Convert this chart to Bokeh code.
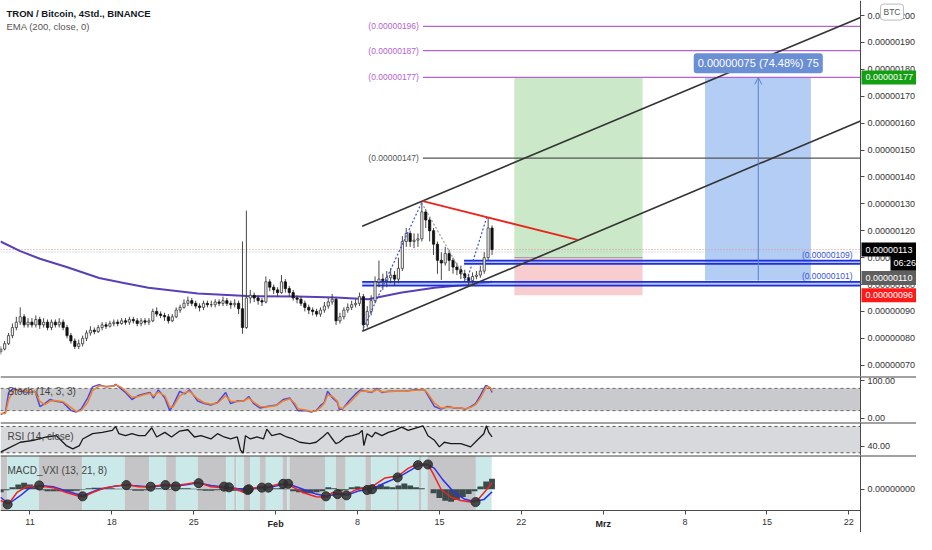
import numpy as np
from bokeh.plotting import figure
from bokeh.layouts import column
from bokeh.models import Range1d, FixedTicker, Label, Span, BoxAnnotation, Arrow, OpenHead
from bokeh.embed import file_html
from bokeh.resources import INLINE

FONT = "Liberation Sans"

# ---------------- data ----------------
# time in days since 1 Jan 2021 (31 = 1 Feb, 59 = 1 Mar); prices in satoshi (1e-8 BTC)
candle_start = 7.5
candle_hours = 8
first_open = 75.0
closes = [76, 78, 81, 84, 86, 88, 85, 86, 85, 87,
          85, 86, 84, 86, 85, 86, 84, 81, 79, 77,
          78, 80, 82, 83, 82.5, 84, 85, 84.5, 85.5, 86,
          85.5, 86.5, 86, 87, 86.5, 85.5, 86.5, 86, 86.5, 90,
          89, 88.5, 88, 86.5, 88, 90.5, 91.5, 93, 94, 93,
          92, 91.5, 93, 92.5, 92.5, 93.5, 93, 94, 93, 92.5,
          93, 91, 84, 95, 96, 95, 94, 93.5, 101, 99,
          98, 97, 101, 98.5, 97, 95, 94.5, 93, 91.5, 90.5,
          90, 89, 90.5, 92, 93.5, 94.5, 86.5, 88, 90.5, 91.5,
          92.5, 93, 95.5, 85, 90, 94, 101, 102, 101.5, 102.5,
          103.5, 102, 106, 116, 119, 116, 116.5, 117, 127, 124,
          120, 115, 109, 108, 111.5, 109, 106.5, 105.5, 104, 102.5,
          101.5, 103, 103.5, 105, 110, 121, 113]
highs = [77, 79, 82, 85.5, 88, 91.5, 89, 87.5, 87.5, 88.5,
         88, 87.5, 87, 87, 87, 87.5, 87, 85, 82, 80,
         79.5, 81, 83, 84.5, 84, 85, 86, 86, 86.5, 87,
         87, 87.5, 87.5, 88, 88, 87.5, 87.5, 87.5, 87.5, 91,
         91.5, 90, 89.5, 89, 89, 91.5, 92.5, 94.5, 95.5, 95,
         94, 93, 94, 94, 94, 94.5, 94.5, 95.5, 95, 94,
         94.5, 94, 116, 127.5, 98, 97, 96, 95, 103, 102,
         100, 99, 103.5, 102, 99.5, 98, 96, 95.5, 94, 92.5,
         91.5, 91, 91.5, 93.5, 95, 96.5, 95, 89.5, 91.5, 93,
         94, 94.5, 97, 96.5, 92, 96, 103, 108.9, 104, 105,
         106, 105, 110, 118, 121, 120, 119, 119, 130.7, 128,
         125, 121, 116, 112, 114, 113, 110, 108, 107, 105.5,
         104, 104.5, 105, 107, 112, 125, 122]
lows = [74, 75.5, 77.5, 80, 83, 85, 84, 84, 84, 84,
        83.5, 84, 83, 83, 84, 84, 83, 80, 78, 76,
        76, 77, 79, 81, 81.5, 82, 83, 83.5, 84, 84.5,
        84.5, 85, 85, 85, 85.5, 84.5, 84.5, 85, 85, 86,
        88, 87.5, 86.5, 85.5, 86, 87.5, 89.5, 91, 92, 92,
        91, 90, 90.5, 91.5, 91.5, 91.5, 92, 92, 92, 91,
        91.5, 89, 81.7, 83.5, 93, 93.5, 92.5, 92, 93, 97.5,
        96.5, 95.5, 96.5, 97, 95.5, 94, 93, 92, 90, 89,
        88.5, 88, 88, 89.5, 91, 92.5, 85, 85.5, 87, 89.5,
        90.5, 91.5, 92, 82.7, 84, 88.5, 93, 99, 98, 99,
        100.5, 99.5, 100.5, 105, 114, 114, 113.5, 114, 116, 121,
        116, 111, 104, 101.7, 107, 105, 104, 103.5, 102, 101,
        99.5, 100.5, 102, 102.5, 104, 109, 111]

ema_days = [7.48, 9.17, 10.85, 13.13, 15.91, 18.02, 20.13, 24.34, 28.56, 32.78, 36.15, 38.93, 41.80, 44.58, 47.36, 49.50]
ema_vals = [116.0, 112.4, 109.6, 106.5, 102.4, 100.6, 98.8, 96.7, 95.7, 95.5, 95.2, 94.5, 97.0, 98.8, 99.9, 101.0]

price_ticks = [70, 80, 90, 100, 110, 120, 130, 140, 150, 160, 170, 180, 190, 200]

channel_days = [38.40, 81.0]
channel_upper = [121.65, 199.3]
channel_lower = [82.6, 160.8]
resist_days = [43.59, 56.81]
resist_vals = [131.0, 116.6]
zig1_days, zig1_vals = [38.51, 43.48], [83.8, 130.4]
zig2_days, zig2_vals = [43.48, 47.25], [130.4, 101.7]
zig3_days, zig3_vals = [47.36, 49.05], [101.7, 125.0]

zone_start = [47.11, 38.40]
zone_low = [107.7, 99.6]
zone_high = [108.9, 101.0]
zone_text = ["(0.00000109)", "(0.00000101)"]

level_start = 43.59
level_vals = [196, 187, 177, 147]
level_text = ["(0.00000196)", "(0.00000187)", "(0.00000177)", "(0.00000147)"]
level_colors = ["#b562d4", "#b562d4", "#b562d4", "#555555"]

long_left, long_right = 51.41, 62.37
long_entry, long_target, long_stop = 110.0, 177.0, 96.0

range_left, range_right = 67.71, 76.76
range_low, range_high = 101.5, 177.0
range_mid = 72.26
range_text = "0.00000075 (74.48%) 75"
range_label_y = 182.3

last_price, last_price_blue = 113.0, 112.1

axis_tags = [(177, "0.00000177", "#12a012"), (113, "0.00000113", "#000000"),
             (102.4, "0.00000110", "#5f5f5f"), (96, "0.00000096", "#ff1a1a")]
countdown = (108.1, "06:26")
currency_tag = (201.3, "BTC")

# Stochastic (14,3,3)
stoch_days = [7.48, 7.90, 8.18, 8.60, 9.17, 10.01, 10.43, 10.85, 11.27, 11.70,
              12.12, 12.82, 13.52, 13.94, 14.37, 14.93, 15.35, 15.91, 16.47, 17.18,
              17.32, 17.74, 18.16, 18.72, 19.28, 19.71, 20.27, 20.55, 20.97, 21.53,
              21.95, 22.24, 22.80, 23.22, 23.64, 24.34, 24.91, 25.47, 26.03, 26.73,
              27.15, 27.72, 28.28, 28.70, 29.12, 29.68, 30.25, 31.09, 31.65, 32.21,
              32.63, 32.92, 33.62, 34.04, 34.46, 34.88, 35.16, 35.45, 35.87, 36.29,
              36.43, 36.71, 37.27, 37.83, 38.26, 38.68, 39.24, 39.66, 40.08, 40.64,
              41.21, 42.05, 42.89, 43.74, 44.02, 44.58, 45.14, 45.70, 46.27, 46.83,
              47.25, 47.67, 48.09, 48.51, 48.94, 49.08, 49.36, 49.50]
stoch_k = [9, 16, 69, 80, 72, 69, 72, 31, 39, 50,
           46, 42, 20, 16, 24, 54, 84, 90, 84, 87,
           91, 80, 69, 50, 61, 65, 69, 54, 76, 54,
           20, 35, 72, 65, 76, 46, 39, 35, 42, 69,
           39, 46, 46, 58, 39, 27, 31, 35, 50, 54,
           35, 20, 20, 16, 20, 35, 42, 72, 54, 42,
           24, 24, 46, 65, 76, 72, 69, 80, 69, 72,
           72, 72, 76, 76, 61, 31, 24, 31, 27, 27,
           24, 31, 39, 61, 87, 87, 80, 69]
stoch_d = [12, 12, 50, 74, 76, 70, 71, 45, 36, 45,
           47, 44, 28, 18, 20, 42, 74, 87, 86, 86,
           89, 84, 73, 56, 58, 63, 67, 59, 70, 60,
           30, 30, 60, 68, 72, 52, 41, 37, 40, 60,
           45, 44, 46, 54, 43, 31, 30, 34, 46, 52,
           40, 25, 21, 18, 19, 30, 40, 62, 58, 45,
           29, 25, 40, 58, 72, 73, 70, 77, 71, 71,
           72, 72, 75, 76, 66, 40, 27, 29, 28, 27,
           25, 29, 36, 54, 80, 86, 82, 73]

# RSI (14)
rsi_days = [7.48, 8.04, 9.17, 10.29, 11.41, 12.26, 13.10, 13.66, 14.23, 14.51,
            15.35, 16.19, 17.04, 17.32, 17.60, 18.16, 18.72, 19.28, 19.85, 20.41,
            20.83, 21.53, 22.10, 22.80, 23.50, 24.06, 24.62, 25.47, 26.03, 26.59,
            27.15, 27.72, 28.00, 28.22, 28.42, 28.84, 29.40, 29.96, 30.25, 30.67,
            31.37, 31.93, 32.49, 33.06, 33.90, 34.46, 35.02, 35.45, 35.73, 36.15,
            36.43, 36.99, 37.55, 38.11, 38.40, 38.54, 38.82, 39.24, 39.52, 40.08,
            40.64, 41.21, 41.77, 42.33, 42.89, 43.60, 44.02, 44.58, 45.00, 45.42,
            45.99, 46.83, 47.67, 48.23, 48.80, 49.02, 49.22, 49.50]
rsi_vals = [31, 36, 46, 49, 54, 56, 41, 36, 41, 51,
            59, 61, 64, 70, 59, 56, 59, 56, 56, 68,
            54, 61, 54, 63, 65, 54, 56, 51, 59, 54,
            51, 54, 34, 29.5, 56, 51, 54, 51, 66, 56,
            59, 54, 51, 46, 44, 46, 54, 61, 54, 44,
            46, 54, 56, 59, 64, 41, 59, 54, 61, 56,
            61, 64, 69, 64, 67, 71, 56, 49, 39, 46,
            44, 44, 39, 49, 59, 71, 61, 54]

# MACD_VXI (13, 21, 8)
macd_blue_days = [7.48, 8.18, 9.17, 10.01, 10.85, 11.98, 13.10, 14.51, 15.91, 17.32,
                  18.30, 19.28, 20.27, 21.53, 22.52, 23.50, 24.34, 25.47, 26.59, 27.72,
                  28.70, 29.68, 30.39, 31.65, 32.21, 33.34, 34.46, 35.32, 36.29, 37.13,
                  38.11, 39.24, 40.36, 41.49, 42.33, 43.17, 44.02, 44.58, 45.28, 46.27,
                  47.11, 47.95, 48.80, 49.50]
macd_blue = [-8.3, -15, -6.7, 1.7, 4, 2.7, -1.7, -6.7, 0, 3.3,
             4.3, 3.3, 2.3, 4, 3.3, 5, 6.7, 4, 2.3, 0.7,
             0, 1.7, 1.7, 5, 5, 0, -5, -7.3, -5, -6,
             -1.7, 0.7, 6.7, 12.3, 18.3, 24.3, 25.7, 21.7, 10, -3.3,
             -10, -12.7, -10.7, -2.7]
macd_red_days = [7.48, 8.18, 8.89, 9.73, 10.85, 11.98, 13.10, 14.51, 15.35, 16.47,
                 18.30, 19.28, 20.27, 21.53, 22.52, 23.50, 24.34, 25.47, 26.59, 27.72,
                 28.28, 28.70, 29.68, 30.39, 31.37, 32.21, 33.34, 34.46, 35.32, 35.87,
                 36.29, 37.13, 37.83, 38.68, 39.52, 40.36, 41.49, 42.33, 43.17, 44.02,
                 44.44, 45.14, 45.99, 46.83, 47.67, 48.23, 48.94, 49.50]
macd_red = [-11.7, -15, -3.3, 2.7, 3.3, 1.7, -3.3, -8.3, -3.3, 1.7,
            5, 2.7, 2.7, 5, 4, 5.7, 7.3, 2.7, 1.7, 0,
            -3.3, 0, 2.7, 2.7, 5.7, 4, -3.3, -7.7, -8.3, -3.3,
            -4, -5, -0.7, 1.7, 5, 11.7, 14, 21.7, 26.7, 25.7,
            16.7, 0, -8.3, -11.7, -13.3, -11.7, -1.7, 6.7]
hist_start, hist_step = 7.5, 0.5
macd_hist = [-3, -1, 2, 5, 6.7, 5, 2, -1, -2, -2,
             -2, -2.5, -2, -1.5, -0.5, 1, 1.5, 1.5, 1, 1,
             0.5, 0.5, -0.5, -1.5, -1.5, -1, 0.5, 1, 0.5, -0.5,
             0.5, 1, 1, 0.5, -1, -1.5, -1.5, -1, -0.5, -1,
             -1.5, -2, -1, 1, 0.5, 0.5, 0.5, 1, 1.5, 0.5,
             -2, -3, -4, -4, -3, -2, 2, 1, -2, -1,
             2, 3, 2, 0.5, 3, 5, 3, 2, 4, 6,
             4, 2, 1, 0, -4, -9, -12, -13, -11, -8,
             -5, -2, 3, 8, 11]
cross_days = [8.09, 10.79, 14.50, 18.24, 20.32, 21.58, 22.46, 24.42, 26.59, 27.01,
              28.61, 28.70, 29.82, 30.38, 31.65, 32.07, 35.30, 36.29, 37.05, 38.82,
              39.24, 41.43, 43.17, 44.02, 48.09]
cross_vals = [-15.7, 4.0, -7.3, 4.3, 2.7, 4.3, 3.0, 6.3, 2.7, 2.0,
              -0.7, 0.0, 1.7, 1.7, 5.7, 5.7, -7.3, -5.0, -6.3, -0.7,
              0.0, 12.3, 25.0, 25.7, -13.3]
trend_edges = [7.48, 8.07, 10.76, 14.47, 18.10, 20.21, 21.64, 22.48, 24.34, 26.78,
               27.46, 27.63, 28.30, 28.81, 29.65, 30.16, 31.59, 32.01, 32.18, 35.22,
               36.14, 36.99, 38.67, 39.18, 41.37, 41.54, 43.23, 43.48, 43.98, 48.12, 49.47]
trend_state = ["bear", "bull", "bear", "bull", "bear", "bull", "bear", "bull", "bear", "bull",
               "bear", "bull", "bear", "bull", "bear", "bull", "bear", "bull", "bear", "bull",
               "bear", "bull", "bear", "bull", "bear", "bull", "bear", "bull", "bear", "bull"]

x_ticks = [10, 17, 24, 31, 38, 45, 52, 59, 66, 73, 80]
x_tick_labels = ["11", "18", "25", "Feb", "8", "15", "22", "Mrz", "8", "15", "22"]
bold_ticks = ["Feb", "Mrz"]

# ---------------- layout ----------------
W = 916
DATA_END = 81.0           # last day shown before the price scale
PX_PER_DAY = 860 / (DATA_END - 7.48)
XR = Range1d(7.48, 7.48 + W / PX_PER_DAY)


def style_axis(ax):
    ax.axis_line_color = "#4a4a4a"
    ax.major_tick_line_color = "#4a4a4a"
    ax.major_tick_out = 4
    ax.major_tick_in = 0
    ax.minor_tick_line_color = None
    ax.major_label_text_font = FONT
    ax.major_label_text_font_size = "9px"
    ax.major_label_text_color = "#333333"
    ax.major_label_standoff = 3


def panel(h, yr, xaxis=False):
    p = figure(width=W, height=h, x_range=XR, y_range=yr, output_backend="svg",
               toolbar_location=None, x_axis_location="below" if xaxis else None,
               y_axis_location="right", min_border_left=0, min_border_right=0,
               min_border_top=0, min_border_bottom=0, outline_line_color=None,
               background_fill_color="white", border_fill_color="white")
    p.grid.visible = False
    for ax in p.yaxis:
        style_axis(ax)
        ax.fixed_location = DATA_END
    return p


def txt(p, x, y, text, size="10px", color="#333333", bold=False, xu="screen", yu="screen",
        align="left", base="middle", **kw):
    p.add_layout(Label(x=x, y=y, x_units=xu, y_units=yu, text=text, text_font=FONT,
                       text_font_size=size, text_color=color,
                       text_font_style="bold" if bold else "normal",
                       text_align=align, text_baseline=base, **kw))


# ---- main price panel ----
MAIN_H = 376
pm = panel(MAIN_H, Range1d(65.8, 205.6))
pm.yaxis.ticker = FixedTicker(ticks=price_ticks)
pm.yaxis.major_label_overrides = {t: f"{t / 1e8:.8f}" for t in price_ticks}

t = candle_start + np.arange(len(closes)) * candle_hours / 24.0
c = np.array(closes, dtype=float)
o = np.concatenate([[first_open], c[:-1]])
h = np.array(highs, dtype=float)
l = np.array(lows, dtype=float)
up = c >= o
bw = 0.19

# long position box
pm.quad(left=[long_left], right=[long_right], bottom=[long_entry], top=[long_target],
        fill_color="#cbe8c8", line_color=None)
pm.quad(left=[long_left], right=[long_right], bottom=[long_stop], top=[long_entry],
        fill_color="#f8cdd0", line_color=None)
pm.segment(x0=[long_left], x1=[long_right], y0=[long_entry], y1=[long_entry],
           line_color="#9a9a9a", line_width=1)
# price range box
pm.quad(left=[range_left], right=[range_right], bottom=[range_low], top=[range_high],
        fill_color="#b4cdf4", line_color=None)
pm.add_layout(Arrow(end=OpenHead(size=7, line_color="#5b7fd0", line_width=1),
                    x_start=range_mid, y_start=range_low, x_end=range_mid, y_end=range_high,
                    line_color="#5b7fd0", line_width=1))

# dotted last-price lines
pm.segment(x0=[XR.start], x1=[DATA_END], y0=[last_price], y1=[last_price],
           line_color="#f08a8a", line_dash="1 2", line_width=1)
pm.segment(x0=[XR.start], x1=[DATA_END], y0=[last_price_blue], y1=[last_price_blue],
           line_color="#9cc9ef", line_dash="1 2", line_width=1)

# level lines
for v, lab, col in zip(level_vals, level_text, level_colors):
    pm.segment(x0=[level_start], x1=[DATA_END], y0=[v], y1=[v], line_color=col, line_width=1.2)
    txt(pm, level_start, v, lab, size="8.5px", color=col, xu="data", yu="data",
        align="right", x_offset=-4)

# EMA
pm.line(ema_days, ema_vals, line_color="#5a3fb8", line_width=2)

# horizontal blue zones
for s, lo_, hi_, lab in zip(zone_start, zone_low, zone_high, zone_text):
    pm.quad(left=[s], right=[DATA_END], bottom=[lo_], top=[hi_], fill_color="#8ea2f0",
            fill_alpha=0.6, line_color=None)
    pm.segment(x0=[s, s], x1=[DATA_END, DATA_END], y0=[lo_, hi_], y1=[lo_, hi_],
               line_color="#1b2fdc", line_width=1.8)
    txt(pm, DATA_END, hi_, lab, size="8.5px", color="#3b55d9", xu="data", yu="data",
        align="right", base="bottom", x_offset=-8, y_offset=1)

# candles
pm.segment(x0=t, x1=t, y0=l, y1=h, line_color="#333333", line_width=0.9)
pm.vbar(x=t[up], width=bw, bottom=o[up], top=c[up], fill_color="#f4f4f4", line_color="#3a3a3a",
        line_width=0.8)
pm.vbar(x=t[~up], width=bw, bottom=c[~up], top=o[~up], fill_color="#111111", line_color="#111111",
        line_width=0.8)

# drawings
pm.line(zig1_days, zig1_vals, line_color="#3a4fd8", line_dash="2 2", line_width=1.2)
pm.line(zig2_days, zig2_vals, line_color="#9a9a9a", line_dash="2 2", line_width=1.2)
pm.line(zig3_days, zig3_vals, line_color="#3a4fd8", line_dash="2 2", line_width=1.2)
pm.line(channel_days, channel_upper, line_color="#333333", line_width=1.6)
pm.line(channel_days, channel_lower, line_color="#333333", line_width=1.6)
pm.line(resist_days, resist_vals, line_color="#e8281e", line_width=1.8)

# range label
txt(pm, range_mid, range_label_y, range_text, size="11px", color="white", xu="data", yu="data",
    align="center", background_fill_color="#6b8fd4", padding=4, border_radius=3)

# price-scale tags
for v, lab, bg in axis_tags:
    txt(pm, DATA_END, v, lab, size="9px", color="white", xu="data", yu="data",
        background_fill_color=bg, padding=4, x_offset=1)
txt(pm, DATA_END, countdown[0], countdown[1], size="9px", color="white", xu="data", yu="data",
    background_fill_color="#000000", padding=3, x_offset=30)
txt(pm, DATA_END, currency_tag[0], currency_tag[1], size="8.5px", color="#555555", xu="data",
    yu="data", background_fill_color="white", border_line_color="#bbbbbb", padding=3,
    border_radius=3, x_offset=20)

# legend texts
txt(pm, 6, MAIN_H - 12.5, "TRON / Bitcoin, 4Std., BINANCE", size="9.5px", color="#131722", bold=True)
txt(pm, 6, MAIN_H - 26, "EMA (200, close, 0)", size="9.5px", color="#555555")

# ---- stochastic panel ----
ST_H = 46
ST_TOP = 112
ps = panel(ST_H, Range1d(-12, ST_TOP))
ps.yaxis.ticker = FixedTicker(ticks=[0, 100])
ps.yaxis.major_label_overrides = {0: "0.00", 100: "100.00"}
ps.add_layout(BoxAnnotation(bottom=20, top=80, right=DATA_END, fill_color="#c9cacd", fill_alpha=1,
                            line_color=None, level="underlay"))
for v in (20, 80):
    ps.segment(x0=[XR.start], x1=[DATA_END], y0=[v], y1=[v], line_color="#666666",
               line_dash="3 3", line_width=1)
ps.add_layout(Span(location=ST_TOP, dimension="width", line_color="#444444", line_width=2))
ps.line(stoch_days, stoch_k, line_color="#4a48e0", line_width=1.5)
ps.line(stoch_days, stoch_d, line_color="#f58027", line_width=1.5)
txt(ps, 7, ST_H - 15, "Stoch (14, 3, 3)", size="10px", color="#444444")

# ---- RSI panel ----
RSI_H = 33
RSI_TOP = 76
pr = panel(RSI_H, Range1d(25.9, RSI_TOP))
pr.yaxis.ticker = FixedTicker(ticks=[40])
pr.yaxis.major_label_overrides = {40: "40.00"}
pr.add_layout(BoxAnnotation(bottom=30, top=70, right=DATA_END, fill_color="#d8d9dc", fill_alpha=1,
                            line_color=None, level="underlay"))
for v in (30, 70):
    pr.segment(x0=[XR.start], x1=[DATA_END], y0=[v], y1=[v], line_color="#555555",
               line_dash="3 3", line_width=1)
pr.add_layout(Span(location=RSI_TOP, dimension="width", line_color="#444444", line_width=2))
pr.line(rsi_days, rsi_vals, line_color="#1a1a1a", line_width=1.3)
txt(pr, 7, RSI_H - 14, "RSI (14, close)", size="10px", color="#444444")

# ---- MACD panel (frame reaches the page bottom; time axis sits at its floor) ----
MACD_H = 77
MACD_TOP, MACD_FLOOR = 35, -22
pc = panel(MACD_H, Range1d(-44.8, MACD_TOP), xaxis=True)
pc.yaxis.ticker = FixedTicker(ticks=[0])
pc.yaxis.major_label_overrides = {0: "0.00000000"}
for a, b, s in zip(trend_edges[:-1], trend_edges[1:], trend_state):
    pc.add_layout(BoxAnnotation(left=a, right=b, bottom=MACD_FLOOR,
                                fill_color="#cbe9e9" if s == "bull" else "#c5c5c7",
                                fill_alpha=1, line_color=None, level="underlay"))
pc.add_layout(Span(location=MACD_TOP, dimension="width", line_color="#444444", line_width=2))
hx = hist_start + np.arange(len(macd_hist)) * hist_step
pc.vbar(x=hx, width=hist_step, top=macd_hist, bottom=0, fill_color="#3b4a4a", line_color=None)
pc.line(macd_blue_days, macd_blue, line_color="#2f2ff0", line_width=1.5)
pc.line(macd_red_days, macd_red, line_color="#ee2222", line_width=1.5)
pc.scatter(cross_days, cross_vals, marker="circle", size=9, fill_color="#2e2e2e",
           line_color="#2e2e2e", fill_alpha=0.85)
txt(pc, 7, MACD_H - 15, "MACD_VXI (13, 21, 8)", size="10px", color="#444444")

xa = pc.xaxis[0]
style_axis(xa)
xa.fixed_location = MACD_FLOOR
xa.bounds = (XR.start, DATA_END)
xa.major_label_standoff = 4
xa.ticker = FixedTicker(ticks=x_ticks)
xa.major_label_overrides = {k: ("" if s in bold_ticks else s) for k, s in zip(x_ticks, x_tick_labels)}
for k, s in zip(x_ticks, x_tick_labels):
    if s in bold_ticks:
        txt(pc, k, 9, s, size="9px", color="#222222", bold=True, xu="data", yu="screen",
            align="center")

layout = column(pm, ps, pr, pc, spacing=0)
open("out.html", "w").write(file_html(layout, INLINE))
